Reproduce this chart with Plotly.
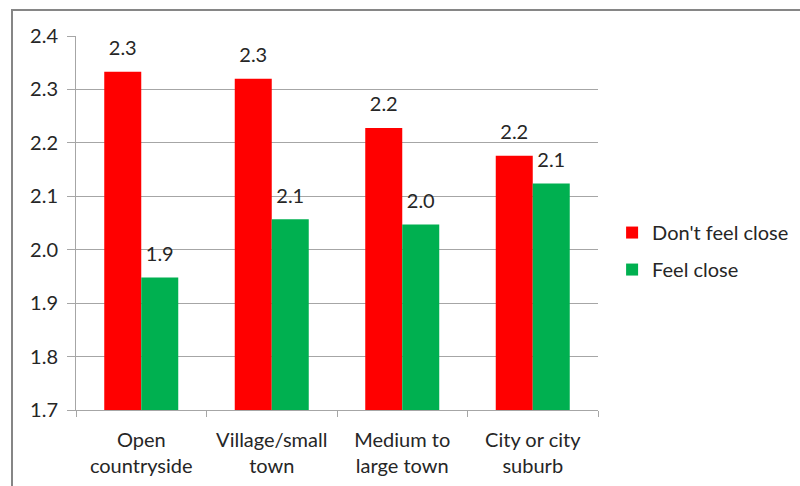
import plotly.graph_objects as go

categories = ["Open<br>countryside", "Village/small<br>town", "Medium to<br>large town", "City or city<br>suburb"]
dont_feel_close = [2.333, 2.320, 2.228, 2.176]
feel_close = [1.948, 2.057, 2.047, 2.124]
series_names = ["Don't feel close", "Feel close"]
y_ticks = [1.7, 1.8, 1.9, 2.0, 2.1, 2.2, 2.3, 2.4]

FONT = "Lato"
FS = 20
TXT = "#262626"
GRID = "#a6a6a6"
GAP = 0.433

fig = go.Figure()
for vals, name, col, grp in [(dont_feel_close, series_names[0], "#ff0000", "a"),
                             (feel_close, series_names[1], "#00b050", "b")]:
    fig.add_trace(go.Bar(
        x=categories, y=vals, name=name,
        marker=dict(color=col, line=dict(width=0)),
        offsetgroup=grp, legendgroup=grp,
    ))
for vals, grp in [(dont_feel_close, "a"), (feel_close, "b")]:
    fig.add_trace(go.Scatter(
        x=categories, y=vals, mode="markers+text",
        text=[f"{v:.1f}" for v in vals], textposition="top center",
        marker=dict(size=17, opacity=0), cliponaxis=False,
        textfont=dict(family=FONT, size=FS, color=TXT),
        offsetgroup=grp, showlegend=False, hoverinfo="skip",
    ))

fig.update_layout(
    width=800, height=486,
    margin=dict(l=76, r=202, t=36, b=76, autoexpand=False),
    paper_bgcolor="white", plot_bgcolor="white",
    barmode="group", bargap=GAP, bargroupgap=0,
    scattermode="group", scattergap=GAP,
    font=dict(family=FONT, size=FS, color=TXT),
    showlegend=True,
    legend=dict(x=1.027, xanchor="left", y=0.425, yanchor="middle",
                font=dict(family=FONT, size=FS, color=TXT),
                tracegroupgap=8, itemwidth=30, bgcolor="rgba(0,0,0,0)"),
    xaxis=dict(showline=True, linecolor=GRID, linewidth=1, automargin=False,
               ticks="outside", tickson="boundaries", ticklen=6, tickcolor=GRID,
               showgrid=False, ticklabelstandoff=12,
               tickfont=dict(family=FONT, size=FS, color=TXT)),
    yaxis=dict(range=[1.7, 2.4], tickvals=y_ticks, tickformat=".1f", automargin=False,
               showline=True, linecolor=GRID, linewidth=1,
               ticks="outside", ticklen=8, tickcolor=GRID,
               showgrid=True, gridcolor=GRID, gridwidth=1, zeroline=False,
               ticklabelstandoff=5,
               tickfont=dict(family=FONT, size=FS, color=TXT)),
    shapes=[dict(type="rect", xref="paper", yref="paper",
                 x0=(12 - 76) / 522, x1=3, y0=-3, y1=1 + 26 / 374,
                 line=dict(color="#868686", width=2), fillcolor="rgba(0,0,0,0)",
                 layer="below")],
)

fig.write_html("out.html")
